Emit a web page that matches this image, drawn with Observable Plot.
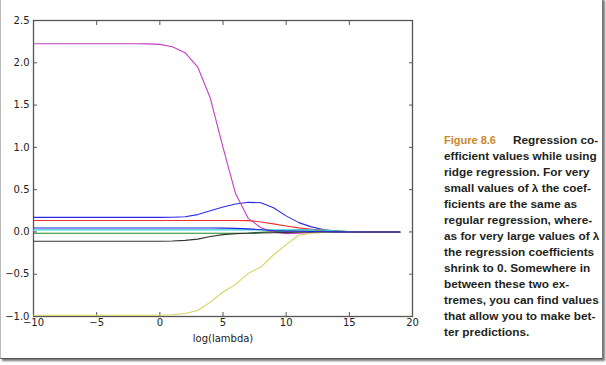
<!DOCTYPE html>
<html>
<head>
<meta charset="utf-8">
<script src="https://cdn.jsdelivr.net/npm/d3@7"></script>
<script src="https://cdn.jsdelivr.net/npm/@observablehq/plot@0.6"></script>
<style>
  html, body { margin: 0; padding: 0; background: #fff; }
  #page { position: relative; width: 606px; height: 365px; overflow: hidden; }
  #border { position: absolute; left: 0; top: -2px; width: 601px; height: 360px;
            border-left: 1px solid #bbb; border-right: 1px solid #777; border-bottom: 1px solid #555;
            box-shadow: 2px 2px 2px #777; }
  #chart { position: absolute; left: 0; top: 0; }
  #caption { position: absolute; left: 444px; top: 132px; width: 160px;
             font-family: "Liberation Sans", Arial, sans-serif; font-weight: bold; font-size: 11.8px;
             line-height: 16px; color: #231f20; white-space: nowrap; }
  #caption .fig { color: #c8892c; margin-right: 17px; font-size: 11px; }
</style>
</head>
<body>
<div id="page">
  <div id="border"></div>
  <div id="chart"></div>
  <div id="caption"></div>
</div>
<script>
// log(lambda) values
const logLambda = [-10,-9,-8,-7,-6,-5,-4,-3,-2,-1,0,1,2,3,4,5,6,7,8,9,10,11,12,13,14,15,16,17,18,19];

// ridge coefficient paths (one array per coefficient)
const coefBlueA = [0.172,0.172,0.172,0.172,0.172,0.172,0.172,0.172,0.172,0.172,0.172,0.173,0.18,0.205,0.25,0.295,0.33,0.35,0.345,0.285,0.19,0.11,0.06,0.025,0.01,0.003,0,0,0,0];
const coefGreen = [-0.015,-0.015,-0.015,-0.015,-0.015,-0.015,-0.015,-0.015,-0.015,-0.015,-0.015,-0.015,-0.015,-0.015,-0.015,-0.015,-0.015,-0.012,-0.005,0.004,0.014,0.022,0.024,0.018,0.01,0.004,0.001,0,0,0];
const coefRed = [0.135,0.135,0.135,0.135,0.135,0.135,0.135,0.135,0.135,0.135,0.135,0.135,0.135,0.135,0.135,0.135,0.135,0.134,0.118,0.095,0.07,0.048,0.032,0.018,0.008,0.003,0,0,0,0];
const coefCyan = [0.024,0.024,0.024,0.024,0.024,0.024,0.024,0.024,0.024,0.024,0.024,0.024,0.024,0.024,0.024,0.024,0.024,0.024,0.024,0.024,0.024,0.024,0.026,0.02,0.01,0.004,0.001,0,0,0];
const coefMagenta = [2.225,2.225,2.225,2.225,2.225,2.225,2.225,2.225,2.225,2.224,2.218,2.19,2.12,1.95,1.58,1.0,0.45,0.16,0.05,0.0,-0.02,-0.015,-0.005,0,0,0,0,0,0,0];
const coefYellow = [-0.985,-0.985,-0.985,-0.985,-0.985,-0.985,-0.985,-0.985,-0.985,-0.985,-0.985,-0.98,-0.965,-0.93,-0.83,-0.71,-0.62,-0.49,-0.415,-0.27,-0.15,-0.04,-0.015,-0.005,0,0,0,0,0,0];
const coefBlack = [-0.11,-0.11,-0.11,-0.11,-0.11,-0.11,-0.11,-0.11,-0.11,-0.11,-0.11,-0.108,-0.1,-0.085,-0.055,-0.032,-0.02,-0.015,-0.013,-0.01,-0.005,-0.002,0,0,0,0,0,0,0,0];
const coefBlueB = [0.046,0.046,0.046,0.046,0.046,0.046,0.046,0.046,0.046,0.046,0.046,0.046,0.046,0.046,0.046,0.045,0.042,0.036,0.026,0.016,0.01,0.008,0.005,0.003,0.001,0,0,0,0,0];

const seriesNames = ["w0","w1","w2","w3","w4","w5","w6","w7"];
const seriesValues = [coefBlueA, coefGreen, coefRed, coefCyan, coefMagenta, coefYellow, coefBlack, coefBlueB];
const seriesColors = ["#2a2ae6","#1f8a1f","#f03030","#33cfe0","#c040c0","#d4d45a","#333333","#2323d8"];

const xTicks = [-10,-5,0,5,10,15,20];
const yTicks = [-1.0,-0.5,0.0,0.5,1.0,1.5,2.0,2.5];
const xLabel = "log(lambda)";

const captionFig = "Figure 8.6";
const captionLines = [
  "Regression co-",
  "efficient values while using",
  "ridge regression. For very",
  "small values of λ the coef-",
  "ficients are the same as",
  "regular regression, where-",
  "as for very large values of λ",
  "the regression coefficients",
  "shrink to 0. Somewhere in",
  "between these two ex-",
  "tremes, you can find values",
  "that allow you to make bet-",
  "ter predictions."
];

const rows = seriesNames.flatMap((s, i) => logLambda.map((x, j) => ({series: s, x, y: seriesValues[i][j]})));

const chart = Plot.plot({
  width: 430,
  height: 345,
  marginLeft: 33,
  marginRight: 18,
  marginTop: 20,
  marginBottom: 29,
  style: {fontFamily: "DejaVu Sans, sans-serif", fontSize: "10px", color: "#222", background: "transparent"},
  x: {domain: [-10, 20]},
  y: {domain: [-1, 2.5]},
  color: {domain: seriesNames, range: seriesColors},
  marks: [
    Plot.frame({stroke: "#555", strokeWidth: 1.3}),
    Plot.axisX(xTicks, {anchor: "bottom", tickSize: -4, tickFormat: () => "", label: null, stroke: "#555"}),
    Plot.axisX(xTicks, {anchor: "top", tickSize: -4, tickFormat: () => "", label: null, stroke: "#555"}),
    Plot.axisY(yTicks, {anchor: "left", tickSize: -4, tickFormat: () => "", label: null, stroke: "#555"}),
    Plot.axisY(yTicks, {anchor: "right", tickSize: -4, tickFormat: () => "", label: null, stroke: "#555"}),
    Plot.axisX(xTicks, {anchor: "bottom", tickSize: 0, tickPadding: 2, tickFormat: d3.format("d"),
      label: xLabel, labelAnchor: "center", labelArrow: "none", labelOffset: 25}),
    Plot.axisY(yTicks, {anchor: "left", tickSize: 0, tickPadding: 4, tickFormat: d3.format(".1f"), label: null}),
    Plot.line(rows, {x: "x", y: "y", z: "series", stroke: "series", strokeWidth: 1.1})
  ]
});
document.getElementById("chart").appendChild(chart);

const cap = document.getElementById("caption");
captionLines.forEach((t, i) => {
  const div = document.createElement("div");
  if (i === 0) {
    const f = document.createElement("span");
    f.className = "fig";
    f.textContent = captionFig;
    div.appendChild(f);
  }
  div.appendChild(document.createTextNode(t));
  cap.appendChild(div);
});
</script>
</body>
</html>
